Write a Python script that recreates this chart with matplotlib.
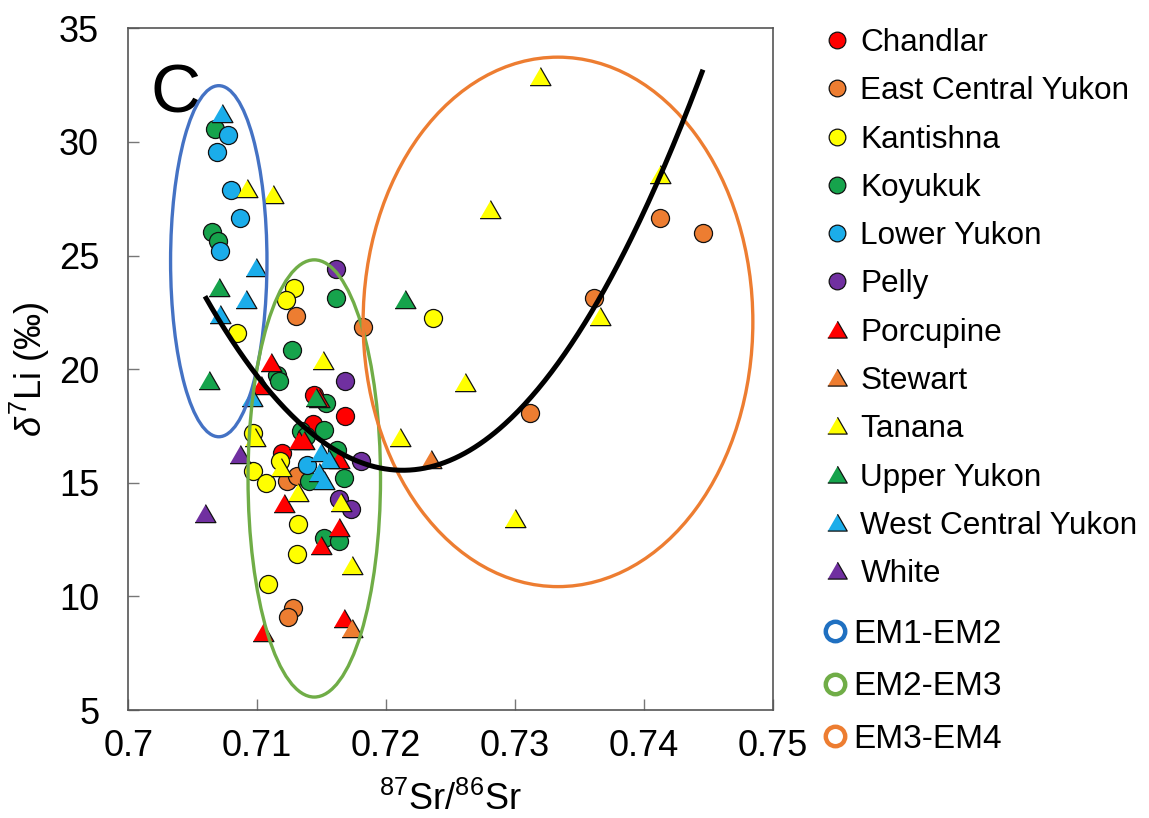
import numpy as np
import matplotlib
matplotlib.use("Agg")
import matplotlib.pyplot as plt
from matplotlib.patches import Ellipse
from matplotlib.lines import Line2D

plt.rcParams['font.family'] = ['Liberation Sans', 'DejaVu Sans']
plt.rcParams['mathtext.fontset'] = 'custom'
plt.rcParams['mathtext.rm'] = 'Liberation Sans'
plt.rcParams['mathtext.it'] = 'Liberation Sans:italic'
plt.rcParams['mathtext.bf'] = 'Liberation Sans:bold'

# ---------------- data (87Sr/86Sr, d7Li) ----------------
chandlar_x = [0.71440, 0.71678, 0.71436, 0.71195]
chandlar_y = [18.85, 17.92, 17.59, 16.31]

ecy_x = [0.71298, 0.71823, 0.71234, 0.71311, 0.71281, 0.71239, 0.73115, 0.73611, 0.74123, 0.74459]
ecy_y = [22.36, 21.87, 15.07, 15.29, 9.48, 9.10, 18.05, 23.12, 26.63, 25.97]

kantishna_x = [0.71285, 0.71221, 0.70846, 0.70970, 0.70970, 0.71066, 0.71177, 0.71316, 0.71312, 0.71084, 0.72363]
kantishna_y = [23.56, 23.05, 21.58, 17.19, 15.51, 15.00, 15.95, 13.17, 11.85, 10.56, 22.24]

koyukuk_x = [0.70671, 0.70653, 0.70696, 0.71609, 0.71273, 0.71157, 0.71170, 0.71531, 0.71337,
             0.71518, 0.71376, 0.71622, 0.71402, 0.71673, 0.71518, 0.71634]
koyukuk_y = [30.58, 26.04, 25.64, 23.12, 20.85, 19.75, 19.46, 18.51, 17.27,
             17.34, 17.05, 16.46, 15.07, 15.22, 12.58, 12.44]

lower_yukon_x = [0.70774, 0.70691, 0.70800, 0.70864, 0.70712, 0.71384]
lower_yukon_y = [30.32, 29.56, 27.87, 26.63, 25.20, 15.80]

pelly_x = [0.71609, 0.71681, 0.71802, 0.71634, 0.71725]
pelly_y = [24.41, 19.46, 15.95, 14.27, 13.83]

porcupine_x = [0.71105, 0.71027, 0.71479, 0.71324, 0.71363, 0.71634, 0.71208, 0.71634, 0.71492, 0.71673, 0.71048]
porcupine_y = [20.29, 19.24, 18.70, 16.83, 16.83, 16.02, 14.05, 13.02, 12.22, 9.00, 8.41]

stewart_x = [0.71738, 0.72345]
stewart_y = [8.56, 16.02]

tanana_x = [0.70919, 0.71125, 0.71513, 0.70981, 0.71182, 0.71319, 0.71647, 0.71738,
            0.72810, 0.73192, 0.72611, 0.72105, 0.73000, 0.73663, 0.74128]
tanana_y = [27.92, 27.68, 20.34, 16.97, 15.65, 14.56, 14.12, 11.34,
            27.00, 32.85, 19.39, 16.97, 13.39, 22.31, 28.53]

upper_yukon_x = [0.70704, 0.70626, 0.71453, 0.72146]
upper_yukon_y = [23.56, 19.46, 18.73, 23.05]

wcy_x = [0.70730, 0.70988, 0.70911, 0.70712, 0.70957, 0.71492, 0.71557, 0.71479, 0.71518]
wcy_y = [31.24, 24.43, 23.05, 22.39, 18.73, 16.31, 15.98, 15.43, 15.07]

white_x = [0.70867, 0.70595]
white_y = [16.21, 13.61]

series_labels = ['Chandlar', 'East Central Yukon', 'Kantishna', 'Koyukuk', 'Lower Yukon', 'Pelly',
                 'Porcupine', 'Stewart', 'Tanana', 'Upper Yukon', 'West Central Yukon', 'White']
series_x = [chandlar_x, ecy_x, kantishna_x, koyukuk_x, lower_yukon_x, pelly_x,
            porcupine_x, stewart_x, tanana_x, upper_yukon_x, wcy_x, white_x]
series_y = [chandlar_y, ecy_y, kantishna_y, koyukuk_y, lower_yukon_y, pelly_y,
            porcupine_y, stewart_y, tanana_y, upper_yukon_y, wcy_y, white_y]
series_colors = ['#FF0000', '#ED7D31', '#FFFF00', '#16A34C', '#1BADEA', '#7030A0',
                 '#FF0000', '#ED7D31', '#FFFF00', '#16A34C', '#1BADEA', '#7030A0']
series_shape = ['o'] * 6 + ['tri'] * 6

# end-member ellipses: (center x, center y, width, height)
ellipse_labels = ['EM1-EM2', 'EM2-EM3', 'EM3-EM4']
ellipse_cx = [0.70702, 0.71443, 0.73334]
ellipse_cy = [24.75, 15.19, 22.08]
ellipse_w = [0.00748, 0.01028, 0.03024]
ellipse_h = [15.45, 19.24, 23.30]
ellipse_colors = ['#4472C4', '#70AD47', '#ED7D31']
ellipse_legend_colors = ['#1F70C1', '#70AD47', '#ED7D31']

# quadratic trendline (vertex form)
trend_vertex_x = 0.7213
trend_vertex_y = 15.55
trend_curvature = 32500.0

x_ticks = [0.7, 0.71, 0.72, 0.73, 0.74, 0.75]
x_ticklabels = ['0.7', '0.71', '0.72', '0.73', '0.74', '0.75']
y_ticks = [5, 10, 15, 20, 25, 30, 35]

# ---------------- figure ----------------
W, H = 1149, 818
fig = plt.figure(figsize=(W / 100, H / 100), dpi=100)
ax = fig.add_axes([128.3 / W, 1 - 710 / H, (772.7 - 128.3) / W, (710 - 28.3) / H])

tri_marker = [(-1.0, -0.78), (1.0, -0.78), (0.0, 0.95)]

for lx, ly, c, shp in zip(series_x, series_y, series_colors, series_shape):
    if shp == 'o':
        ax.plot(lx, ly, linestyle='none', marker='o', markersize=13, markerfacecolor=c,
                markeredgecolor='#111111', markeredgewidth=0.9, zorder=3)
    else:
        ax.plot(lx, ly, linestyle='none', marker=tri_marker, markersize=15, markerfacecolor=c,
                markeredgecolor='#111111', markeredgewidth=0.9, zorder=3)

for cx, cy, w, h, c in zip(ellipse_cx, ellipse_cy, ellipse_w, ellipse_h, ellipse_colors):
    ax.add_patch(Ellipse((cx, cy), w, h, fill=False, edgecolor=c, linewidth=2.4, zorder=4))

all_x = np.concatenate([np.asarray(v) for v in series_x])
tx = np.linspace(all_x.min(), all_x.max(), 300)
ty = trend_curvature * (tx - trend_vertex_x) ** 2 + trend_vertex_y
ax.plot(tx, ty, color='black', linewidth=3.6, zorder=5, solid_capstyle='butt')

ax.set_xlim(0.7, 0.75)
ax.set_ylim(5, 35)
ax.set_xticks(x_ticks)
ax.set_xticklabels(x_ticklabels)
ax.set_yticks(y_ticks)
for s in ax.spines.values():
    s.set_color('#555555')
    s.set_linewidth(1.2)
ax.tick_params(axis='both', direction='in', length=8, width=1.0, color='#777777',
               labelsize=26, labelcolor='black')
ax.tick_params(axis='x', pad=14)
ax.tick_params(axis='y', pad=21)

ax.set_xlabel(r'$^{87}$Sr/$^{86}$Sr', fontsize=26, va='baseline')
ax.xaxis.set_label_coords(0.5, -0.147)
ax.set_ylabel(r'$\mathit{\delta}^{7}$Li (‰)', fontsize=26, va='center')
ax.yaxis.set_label_coords(-0.152, 0.5)

ax.text(0.034, 0.876, 'C', transform=ax.transAxes, fontsize=50, ha='left', va='baseline')

# ---------------- legends ----------------
handles = []
for lab, c, shp in zip(series_labels, series_colors, series_shape):
    if shp == 'o':
        h = Line2D([], [], linestyle='none', marker='o', markersize=12, markerfacecolor=c,
                   markeredgecolor='#111111', markeredgewidth=0.9)
    else:
        h = Line2D([], [], linestyle='none', marker=tri_marker, markersize=14, markerfacecolor=c,
                   markeredgecolor='#111111', markeredgewidth=0.9)
    handles.append(h)
leg1 = fig.legend(handles, series_labels, loc='upper left', bbox_to_anchor=(821 / W, 1 - 28 / H),
                  frameon=False, fontsize=22.7, handlelength=1.0, handletextpad=0.25,
                  labelspacing=0.58, borderpad=0, borderaxespad=0)

handles2 = [Line2D([], [], linestyle='none', marker='o', markersize=14, markerfacecolor='none',
                   markeredgecolor=c, markeredgewidth=3.2) for c in ellipse_legend_colors]
leg2 = fig.legend(handles2, ellipse_labels, loc='upper left', bbox_to_anchor=(818 / W, 1 - 619 / H),
                  frameon=False, fontsize=24, handlelength=1.0, handletextpad=0.05,
                  labelspacing=0.64, borderpad=0, borderaxespad=0)

fig.savefig('out.png', dpi=100, facecolor='white')
